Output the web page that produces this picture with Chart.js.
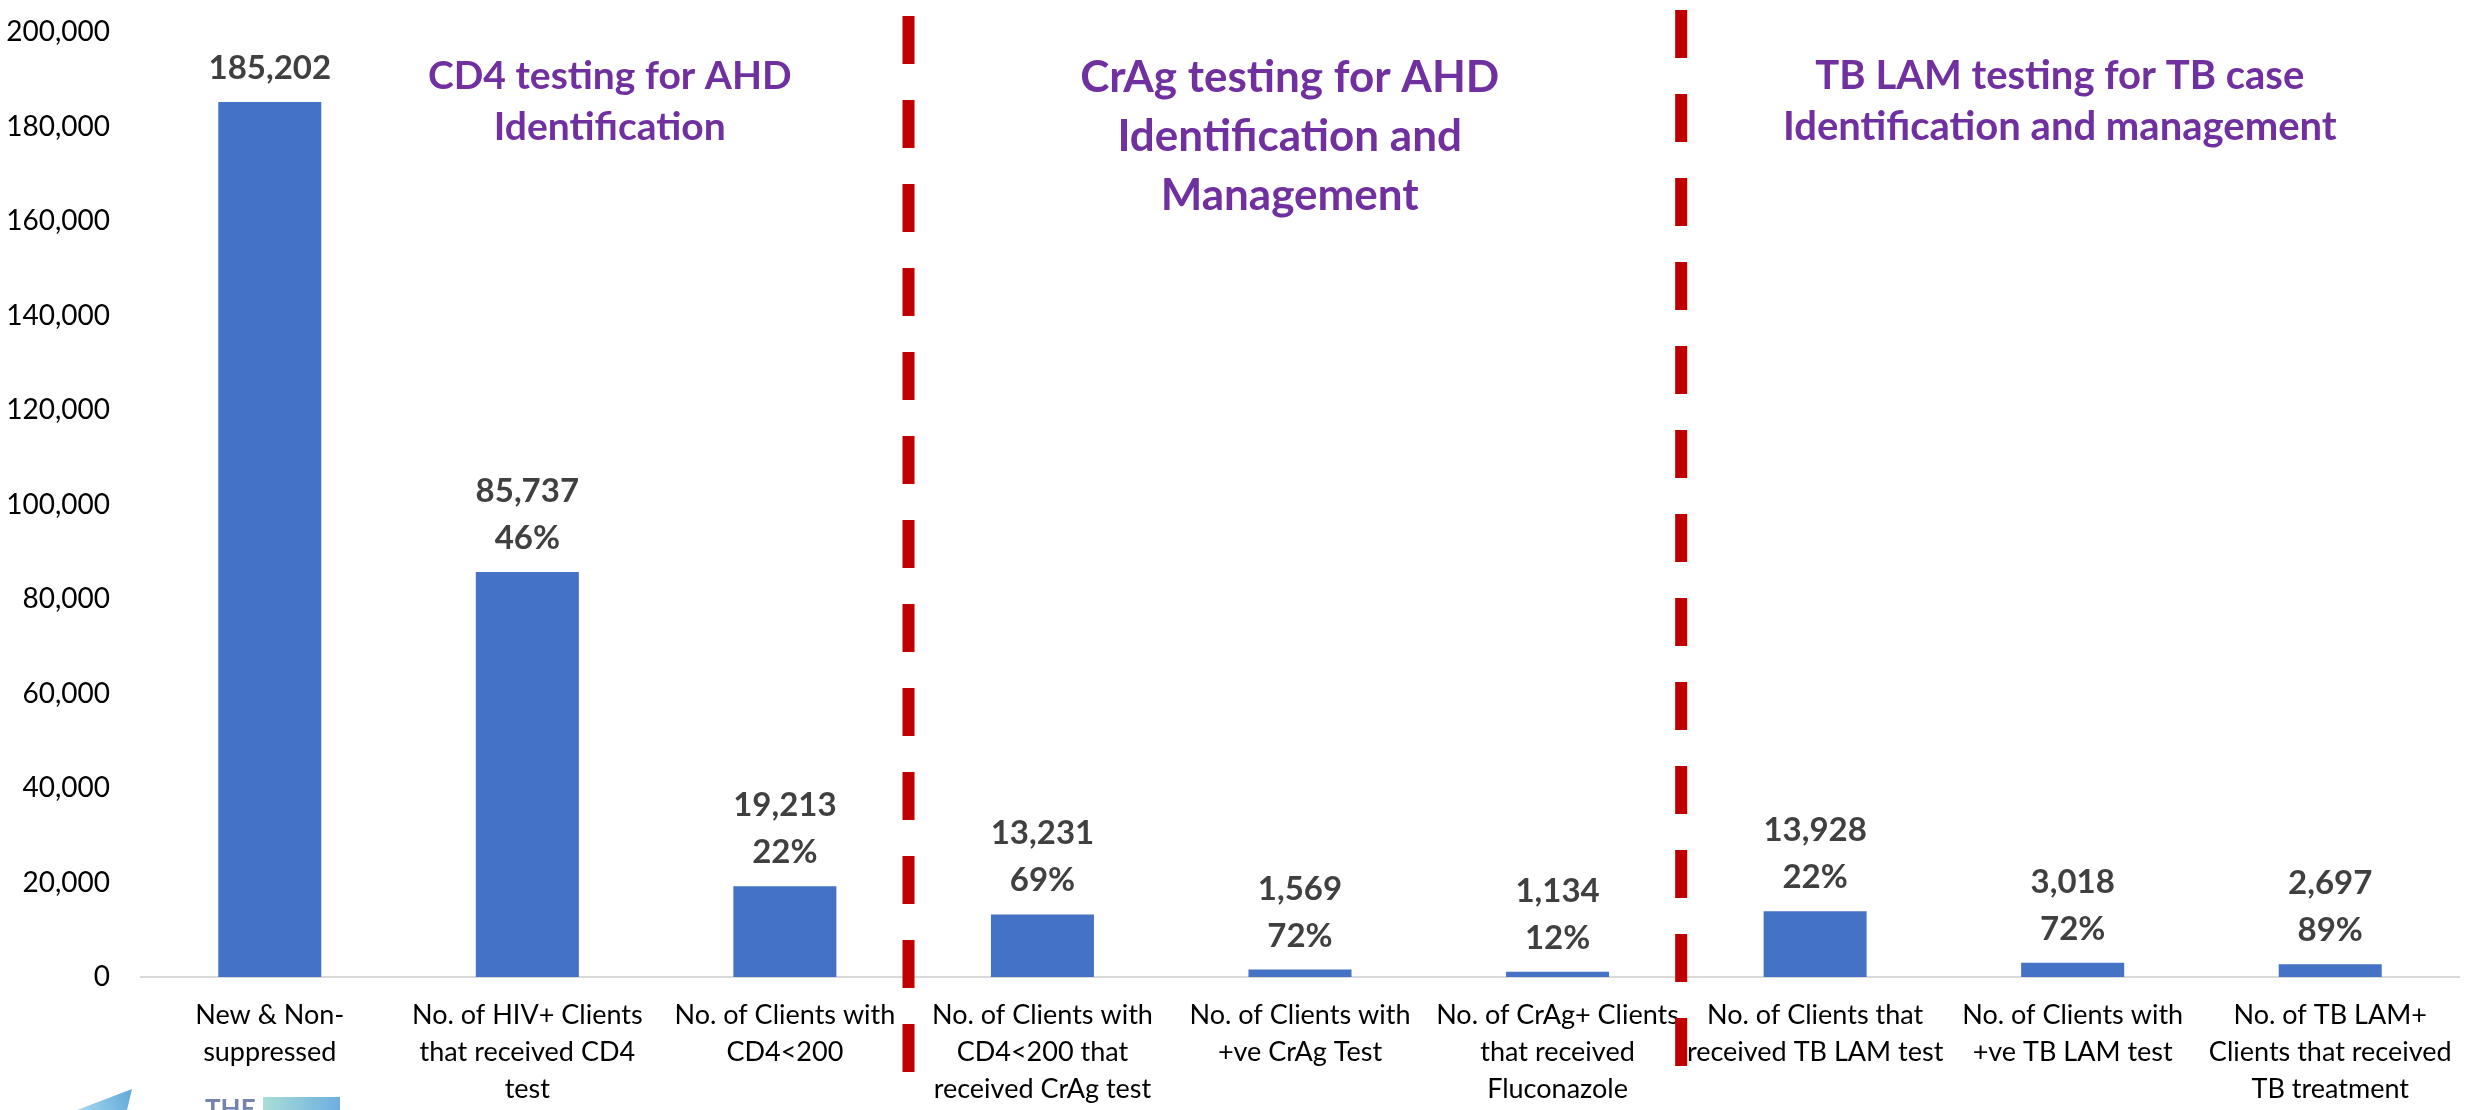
<!DOCTYPE html>
<html>
<head>
<meta charset="utf-8">
<script src="https://cdn.jsdelivr.net/npm/chart.js@4.4.1/dist/chart.umd.min.js"></script>
<style>
  html, body { margin: 0; padding: 0; background: #fff; }
  #wrap { width: 2483px; height: 1110px; position: relative; }
</style>
</head>
<body>
<div id="wrap"><canvas id="ahdChart"></canvas></div>
<script>
// Chart data
const categories = [
  ["New & Non-", "suppressed"],
  ["No. of HIV+ Clients", "that received CD4", "test"],
  ["No. of Clients with", "CD4<200"],
  ["No. of Clients with", "CD4<200 that", "received CrAg test"],
  ["No. of Clients with", "+ve CrAg Test"],
  ["No. of CrAg+ Clients", "that received", "Fluconazole"],
  ["No. of Clients that", "received TB LAM test"],
  ["No. of Clients with", "+ve TB LAM test"],
  ["No. of TB LAM+", "Clients that received", "TB treatment"],
]
const clientCounts = [185202, 85737, 19213, 13231, 1569, 1134, 13928, 3018, 2697]
const percentLabels = ["", "46%", "22%", "69%", "72%", "12%", "22%", "72%", "89%"]
const yMin = 0
const yMax = 200000
const yStep = 20000

const sectionTitles = [
  ["CD4 testing for AHD", "Identification"],
  ["CrAg testing for AHD", "Identification and", "Management"],
  ["TB LAM testing for TB case", "Identification and management"],
]
// section dividers sit between the category groups (category units)
const dividerAt = [2.48, 5.48]

// Layout of the section titles: x in category units, y in axis value of first baseline
const titleLayout = [
  { x: 1.32, y: 188000, size: 39, lineHeight: 51 },
  { x: 3.96, y: 187400, size: 44, lineHeight: 59 },
  { x: 6.95, y: 188000, size: 40, lineHeight: 51 },
]

const fmt = (v) => v.toLocaleString("en-US")

// Value labels above each bar (count + percentage)
const barLabels = {
  id: "barLabels",
  afterDatasetsDraw(chart) {
    const { ctx } = chart
    const meta = chart.getDatasetMeta(0)
    ctx.save()
    ctx.font = "bold 33px Lato"
    ctx.fillStyle = "#404040"
    ctx.textAlign = "center"
    ctx.textBaseline = "alphabetic"
    meta.data.forEach((bar, i) => {
      const lines = [fmt(clientCounts[i])]
      if (percentLabels[i]) lines.push(percentLabels[i])
      let y = bar.y - 23
      for (let k = lines.length - 1; k >= 0; k--) {
        ctx.fillText(lines[k], bar.x, y)
        y -= 47
      }
    })
    ctx.restore()
  },
}

// Red dashed dividers and purple section titles
const sections = {
  id: "sections",
  afterDraw(chart) {
    const { ctx, chartArea } = chart
    const xs = chart.scales.x
    const ys = chart.scales.y
    ctx.save()
    ctx.strokeStyle = "#C00000"
    ctx.lineWidth = 12
    ctx.lineCap = "butt"
    ctx.setLineDash([48, 36])
    dividerAt.forEach((pos, i) => {
      const x = xs.getPixelForValue(pos)
      const top = chartArea.top - (i === 0 ? 16 : 22)
      ctx.beginPath()
      ctx.moveTo(x, top)
      ctx.lineTo(x, chartArea.bottom + 95)
      ctx.stroke()
    })
    ctx.setLineDash([])

    ctx.fillStyle = "#7030A0"
    ctx.textAlign = "center"
    ctx.textBaseline = "alphabetic"
    sectionTitles.forEach((lines, i) => {
      const lay = titleLayout[i]
      ctx.font = `bold ${lay.size}px Lato`
      const x = xs.getPixelForValue(lay.x)
      let y = ys.getPixelForValue(lay.y)
      lines.forEach((line) => {
        ctx.fillText(line, x, y)
        y += lay.lineHeight
      })
    })

    // partially visible logo at the bottom-left corner
    const h = chart.height
    const tri = ctx.createLinearGradient(77, h, 132, h - 21)
    tri.addColorStop(0, "#A9D8EE")
    tri.addColorStop(1, "#5FA8DA")
    ctx.fillStyle = tri
    ctx.beginPath()
    ctx.moveTo(132, h - 21)
    ctx.lineTo(77, h)
    ctx.lineTo(127, h)
    ctx.closePath()
    ctx.fill()

    ctx.font = "bold 26px Lato"
    ctx.fillStyle = "#7484AA"
    ctx.textAlign = "left"
    ctx.textBaseline = "top"
    ctx.fillText("THE", 205, h - 13)

    const rect = ctx.createLinearGradient(263, 0, 340, 0)
    rect.addColorStop(0, "#A8DED6")
    rect.addColorStop(1, "#6EAEE0")
    ctx.fillStyle = rect
    ctx.fillRect(263, h - 13, 77, 13)
    ctx.restore()
  },
}

function initChart() {
  const ctx = document.getElementById("ahdChart")
  return new Chart(ctx, {
    type: "bar",
    data: {
      labels: categories,
      datasets: [
        {
          data: clientCounts,
          backgroundColor: "#4472C4",
          borderWidth: 0,
          categoryPercentage: 1,
          barPercentage: 0.4,
        },
      ],
    },
    options: {
      responsive: true,
      maintainAspectRatio: false,
      animation: false,
      layout: { padding: { top: 32, right: 24, left: 0, bottom: 0 } },
      plugins: {
        legend: { display: false },
        tooltip: { enabled: false },
      },
      scales: {
        x: {
          grid: { display: false, drawTicks: false },
          border: { display: true, color: "#D9D9D9", width: 2 },
          ticks: {
            color: "#000",
            padding: 20,
            autoSkip: false,
            maxRotation: 0,
            font: { family: "Lato", size: 27, lineHeight: 1.36 },
          },
          afterFit: (scale) => { scale.height = 133 },
        },
        y: {
          min: yMin,
          max: yMax,
          grid: { display: false, drawTicks: false },
          border: { display: false },
          ticks: {
            stepSize: yStep,
            color: "#000",
            padding: 31,
            font: { family: "Lato", size: 28 },
            callback: (v) => fmt(v),
          },
          afterFit: (scale) => {
            scale.width = 141
            // tick padding should not push the plot area down
            scale.paddingTop = 17
            scale.paddingBottom = 17
          },
        },
      },
    },
    plugins: [barLabels, sections],
  })
}

initChart()
</script>
</body>
</html>
